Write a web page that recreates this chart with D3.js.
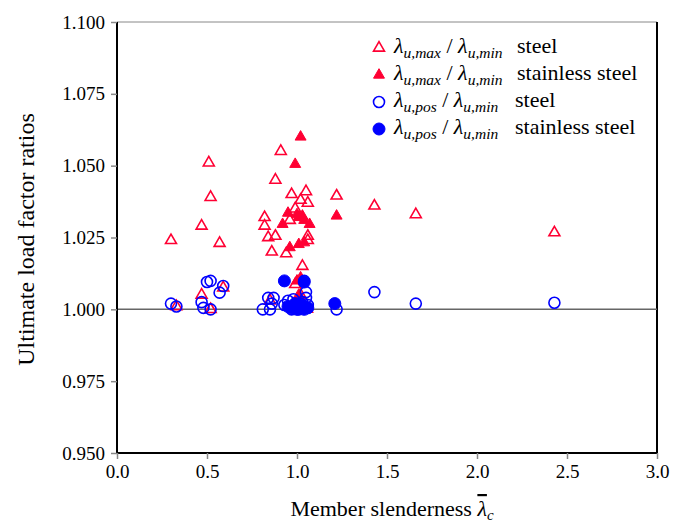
<!DOCTYPE html>
<html>
<head>
<meta charset="utf-8">
<script src="https://cdn.jsdelivr.net/npm/d3@7"></script>
<style>
  body { margin: 0; background: #fff; }
</style>
</head>
<body>
<div id="chart"></div>
<script>
'use strict';

// Data: [slenderness, ratio]
const steelMax = [
    [0.30, 1.024], [0.33, 1.001], [0.47, 1.029], [0.51, 1.051], [0.52, 1.039],
    [0.57, 1.023], [0.47, 1.005], [0.59, 1.0075], [0.52, 1.000],
    [0.82, 1.032], [0.82, 1.029], [0.84, 1.025], [0.88, 1.0255], [0.86, 1.020],
    [0.88, 1.045], [0.91, 1.055], [0.94, 1.0194], [0.97, 1.040], [0.99, 1.035],
    [1.02, 1.038], [1.05, 1.041], [1.06, 1.037], [0.96, 1.031], [1.06, 1.0255],
    [1.06, 1.024], [1.03, 1.015], [0.99, 1.0087], [0.85, 1.003], [1.02, 1.005],
    [1.22, 1.0395], [1.43, 1.036], [1.66, 1.033], [2.43, 1.0267]
];
const stainlessMax = [
    [1.02, 1.060], [0.99, 1.0505], [0.95, 1.0335], [0.92, 1.0296], [1.01, 1.032],
    [1.04, 1.031], [1.00, 1.033], [1.07, 1.0296], [1.03, 1.0325], [0.96, 1.0215],
    [1.01, 1.0226], [1.04, 1.0232], [1.22, 1.0325], [1.02, 1.011], [1.00, 1.0099],
    [1.01, 1.005], [1.00, 1.000], [1.03, 1.000], [1.06, 1.000], [0.98, 1.002]
];
const steelPos = [
    [0.30, 1.002], [0.33, 1.001], [0.47, 1.0025], [0.48, 1.0005], [0.52, 1.000],
    [0.50, 1.0095], [0.52, 1.0099], [0.59, 1.0081], [0.57, 1.0058],
    [0.81, 1.000], [0.84, 1.004], [0.87, 1.004], [0.85, 1.000], [0.86, 1.002],
    [0.93, 1.0015], [0.95, 1.003], [0.97, 1.000], [1.00, 1.001], [1.02, 1.002],
    [1.03, 1.0025], [1.05, 1.004], [1.05, 1.006], [1.04, 1.0099], [1.06, 1.0015],
    [0.98, 1.0035], [1.01, 1.000], [1.22, 1.000], [1.43, 1.006], [1.66, 1.002],
    [2.43, 1.0023]
];
const stainlessPos = [
    [0.93, 1.0099], [1.04, 1.0095], [0.95, 1.001], [0.97, 1.0005], [1.00, 1.000],
    [1.02, 1.001], [1.04, 1.000], [1.06, 1.0005], [0.99, 1.002], [1.03, 1.0015],
    [1.21, 1.002]
];

const xTicks = [0, 0.5, 1.0, 1.5, 2.0, 2.5, 3.0];
const yTicks = [0.950, 0.975, 1.000, 1.025, 1.050, 1.075, 1.100];

const RED = '#ff0033';
const BLUE = '#0000ff';
const FONT = "'Liberation Serif', 'Times New Roman', Times, 'DejaVu Serif', serif";

// Config svg
const w = 686, h = 523;
const margin = {top: 22, right: 29, bottom: 70, left: 117};
const gW = w - margin.left - margin.right;
const gH = h - margin.top - margin.bottom;

const svg = d3.select('#chart').append('svg')
    .attr('width', w)
    .attr('height', h)
    .style('font-family', FONT);

const g = svg.append('g')
    .attr('transform', `translate(${margin.left},${margin.top})`);

// Scales
const x = d3.scaleLinear().domain([0, 3]).range([0, gW]);
const y = d3.scaleLinear().domain([0.95, 1.1]).range([gH, 0]);

// Frame: top grey, right black
g.append('line')
    .attr('x1', 0).attr('x2', gW).attr('y1', 0).attr('y2', 0)
    .attr('stroke', '#888').attr('stroke-width', 1);
g.append('line')
    .attr('x1', gW).attr('x2', gW).attr('y1', 0).attr('y2', gH)
    .attr('stroke', '#000').attr('stroke-width', 2);

// Reference line at 1.000
g.append('line')
    .attr('x1', 0).attr('x2', gW).attr('y1', y(1)).attr('y2', y(1))
    .attr('stroke', '#666').attr('stroke-width', 1.5);

// Axes
const xAxis = g.append('g')
    .attr('transform', `translate(0,${gH})`)
    .call(d3.axisBottom(x).tickValues(xTicks).tickFormat(d3.format('.1f')).tickSize(6).tickPadding(6));
const yAxis = g.append('g')
    .call(d3.axisLeft(y).tickValues(yTicks).tickFormat(d3.format('.3f')).tickSize(6).tickPadding(6));

[xAxis, yAxis].forEach(ax => {
    ax.attr('font-family', null).attr('font-size', 19);
    ax.select('.domain').attr('stroke', '#000').attr('stroke-width', 2);
    ax.selectAll('.tick line').attr('stroke', '#888').attr('stroke-width', 1.5);
    ax.selectAll('.tick text').attr('fill', '#000').style('font-family', FONT);
});
yAxis.selectAll('.domain').attr('d', `M0,${gH}V0`);
xAxis.selectAll('.domain').attr('d', `M0,0H${gW}`);

// Marker drawing
const tri = d3.symbol().type(d3.symbolTriangle).size(52);

function drawTriangles(data, filled) {
    g.append('g').selectAll('path')
        .data(data)
        .join('path')
        .attr('d', tri)
        .attr('transform', d => `translate(${x(d[0])},${y(d[1])})`)
        .attr('fill', filled ? RED : 'none')
        .attr('stroke', RED)
        .attr('stroke-width', filled ? 1 : 1.6);
}
function drawCircles(data, filled) {
    g.append('g').selectAll('circle')
        .data(data)
        .join('circle')
        .attr('cx', d => x(d[0]))
        .attr('cy', d => y(d[1]))
        .attr('r', filled ? 6 : 5.5)
        .attr('fill', filled ? BLUE : 'none')
        .attr('stroke', BLUE)
        .attr('stroke-width', filled ? 1 : 1.6);
}

drawTriangles(steelMax, false);
drawTriangles(stainlessMax, true);
drawCircles(steelPos, false);
drawCircles(stainlessPos, true);

// Legend
const legendItems = [
    {sub: 'u,max', label: 'steel', shape: 'tri', filled: false},
    {sub: 'u,max', label: 'stainless steel', shape: 'tri', filled: true},
    {sub: 'u,pos', label: 'steel', shape: 'circ', filled: false},
    {sub: 'u,pos', label: 'stainless steel', shape: 'circ', filled: true}
];
const legend = svg.append('g');
legendItems.forEach((it, i) => {
    const ly = 48 + i * 27;
    const row = legend.append('g').attr('transform', `translate(379,${ly})`);
    if (it.shape === 'tri') {
        row.append('path')
            .attr('d', tri)
            .attr('fill', it.filled ? RED : 'none')
            .attr('stroke', RED)
            .attr('stroke-width', it.filled ? 1 : 1.6);
    } else {
        row.append('circle')
            .attr('r', it.filled ? 6 : 5.5)
            .attr('fill', it.filled ? BLUE : 'none')
            .attr('stroke', BLUE)
            .attr('stroke-width', it.filled ? 1 : 1.6);
    }
    const t = row.append('text')
        .attr('x', 15)
        .attr('y', 5)
        .style('font-size', '22px');
    t.append('tspan').style('font-style', 'italic').text('λ');
    t.append('tspan').style('font-style', 'italic').style('font-size', '15.5px')
        .attr('dy', 5).text(it.sub);
    t.append('tspan').attr('dy', -5).text(' / ');
    t.append('tspan').style('font-style', 'italic').text('λ');
    t.append('tspan').style('font-style', 'italic').style('font-size', '15.5px')
        .attr('dy', 5).text('u,min');
    row.append('text')
        .attr('x', it.shape === 'tri' ? 138 : 136)
        .attr('y', 5)
        .style('font-size', '22px')
        .text(it.label);
});

// Axis titles
svg.append('text')
    .attr('transform', `translate(34,${margin.top + gH / 2 + 2}) rotate(-90)`)
    .attr('text-anchor', 'middle')
    .style('font-size', '24px')
    .text('Ultimate load factor ratios');

const xt = svg.append('text')
    .attr('x', 392)
    .attr('y', 516)
    .attr('text-anchor', 'middle')
    .style('font-size', '22px');
xt.append('tspan').text('Member slenderness ');
xt.append('tspan').style('font-style', 'italic').style('text-decoration', 'overline').text('λ');
xt.append('tspan').style('font-style', 'italic').style('font-size', '15px').attr('dy', 4).text('c');
</script>
</body>
</html>
